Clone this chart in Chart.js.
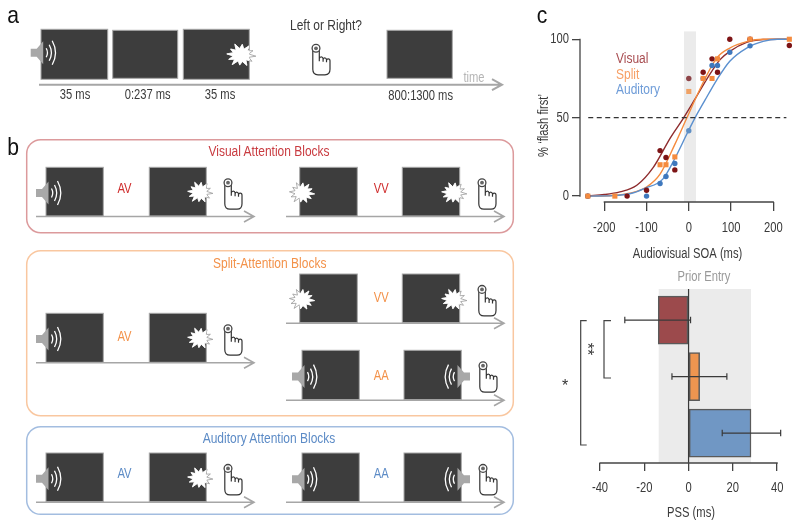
<!DOCTYPE html>
<html><head><meta charset="utf-8">
<script src="https://cdn.jsdelivr.net/npm/chart.js@4"></script>
<style>
html,body{margin:0;padding:0;background:#fff;width:800px;height:527px;overflow:hidden}
canvas,svg{position:absolute}
#c1{left:530px;top:20px}
#c2{left:560px;top:270px}
#art{left:0;top:0}
text{font-family:"Liberation Sans",sans-serif}
</style></head><body>
<canvas id="c1" width="265" height="245" style="width:265px;height:245px"></canvas>
<canvas id="c2" width="240" height="257" style="width:240px;height:257px"></canvas>
<svg id="art" width="800" height="527" viewBox="0 0 800 527"></svg>
<script>
// ---- panel c, top: psychometric data ----
const soaTicks = [-200,-100,0,100,200];
const pctTicks = [0,50,100];
const visualX = [-239,-146,-100,-68,-54,-33,0,34,55,68,97,145,238];
const visualY = [0,0,3.75,29,24.6,16.7,75,79,87.5,79,100,100,96];
const splitX  = [-239,-175,-68,-54,-33,0,34,55,68,145,238];
const splitY  = [0,0,20,20,25,66.7,75,75,87.5,100,100];
const audX    = [-239,-100,-68,-54,-33,0,34,55,68,97,145];
const audY    = [0,0,8,12.5,20.8,41.7,75,83.3,83.3,91.7,95.8];
const visualCurveX = [-237,-200,-163,-123,-84,-44,-13,15,46,74,97,137,176,210,232];
const visualCurveY = [0.3,1,2.7,6.9,18.3,37,49.6,62,76,87,92.3,98,99.8,100,100];
const splitCurveX  = [-235,-180,-140,-100,-68,-33,-5,26,66,97,137,176,232];
const splitCurveY  = [0,0.4,1.8,5.8,14,33,49.6,68,88,94.4,98.5,100,100];
const audCurveX    = [-235,-180,-140,-104,-61,-33,-2,15,38,66,97,137,176,210,232];
const audCurveY    = [0,0.3,1.5,5,11,24,41,50,61,74,86,94.4,98.6,100,100];
const guideX = [-238,231];
const guideY = [50,50];
const soaBand = [-11.3,17];
// ---- panel c, bottom: PSS ----
const pssTicks = [-40,-20,0,20,40];
const conditions = ['Visual','Split','Auditory'];
const pssValues = [-13.7,5,28.2];
const pssLow  = [-28.8,-7.5,15.2];
const pssHigh = [0.9,17.3,41.6];
const priorBand = [-13.5,28.2];

const FONT = '"Liberation Sans",sans-serif';
const INK = '#3a3a3a';
const NARROW = 0.8;
const pts = (xs,ys)=>xs.map((x,i)=>({x,y:ys[i]}));
Chart.defaults.font.family = FONT;
Chart.defaults.color = INK;
Chart.defaults.animation = false;

// the reference uses a condensed face: draw all chart text narrowed
['c1','c2'].forEach(id=>{
  const c=document.getElementById(id).getContext('2d'),f=c.fillText;
  c.fillText=function(t,x,y){this.save();this.translate(x,y);this.scale(NARROW,1);f.call(this,t,0,0);this.restore();};
});

const rAxis = { id:'rAxis', afterDatasetsDraw(ch){
  const c=ch.ctx,{x,y}=ch.scales;
  c.save();c.strokeStyle='#444';c.lineWidth=1.3;c.beginPath();
  const xt=x.ticks.map(t=>t.value), b=ch.chartArea.bottom;
  c.moveTo(x.getPixelForValue(xt[0])-.6,b);c.lineTo(x.getPixelForValue(xt[xt.length-1])+.6,b);
  if(ch.canvas.id==='c1'){
    const yt=y.ticks.map(t=>t.value), l=ch.chartArea.left;
    c.moveTo(l,y.getPixelForValue(yt[0])+.6);c.lineTo(l,y.getPixelForValue(yt[yt.length-1])-.6);
  }
  c.stroke();c.restore();
}};
const band = { id:'band', beforeDatasetsDraw(ch,a,o){
  const c=ch.ctx,{x}=ch.scales,A=ch.chartArea;
  c.save();c.fillStyle='#ebebeb';
  const l=x.getPixelForValue(o.range[0]),r=x.getPixelForValue(o.range[1]);
  c.fillRect(l,A.top,r-l,A.bottom-A.top);c.restore();
}};
const errs = { id:'errs', afterDatasetsDraw(ch){
  if(ch.canvas.id!=='c2')return;
  const c=ch.ctx,{x,y}=ch.scales,A=ch.chartArea;
  c.save();c.strokeStyle='#3a3a3a';c.lineWidth=1.2;c.beginPath();
  const z=x.getPixelForValue(0);c.moveTo(z,A.top);c.lineTo(z,A.bottom);
  conditions.forEach((_,i)=>{
    const py=y.getPixelForValue(i),l=x.getPixelForValue(pssLow[i]),h=x.getPixelForValue(pssHigh[i]);
    c.moveTo(l,py);c.lineTo(h,py);c.moveTo(l,py-3.3);c.lineTo(l,py+3.3);c.moveTo(h,py-3.3);c.lineTo(h,py+3.3);
  });
  c.stroke();c.restore();
}};
const lineDs=(xs,ys,col)=>({type:'line',data:pts(xs,ys),borderColor:col,borderWidth:1.4,pointRadius:0,cubicInterpolationMode:'monotone',fill:false});
const dotDs=(xs,ys,col,pale,style)=>({type:'scatter',data:pts(xs,ys),
  backgroundColor:c=>(c.raw&&c.raw.x===0)?pale:col,borderWidth:0,
  pointRadius:style==='rect'?3.6:2.7,pointStyle:style,showLine:false});

new Chart(document.getElementById('c1'),{
  type:'scatter',
  data:{datasets:[
    {type:'line',data:pts(guideX,guideY),borderColor:'#333',borderWidth:1.2,borderDash:[5,3.5],pointRadius:0},
    dotDs(splitX,splitY,'#f58b3e','#f0a265','rect'),
    dotDs(audX,audY,'#3f78bd','#5f8fc4','circle'),
    dotDs(visualX,visualY,'#7d1416','#8e4448','circle'),
    lineDs(audCurveX,audCurveY,'#5b90cf'),
    lineDs(splitCurveX,splitCurveY,'#f58b3e'),
    lineDs(visualCurveX,visualCurveY,'#8e2c2e')
  ]},
  plugins:[rAxis,band],
  options:{responsive:false,animation:false,clip:false,
    layout:{autoPadding:false,padding:{top:8,left:0,right:0,bottom:0}},
    plugins:{legend:{display:false},tooltip:{enabled:false},band:{range:soaBand}},
    scales:{
      x:{type:'linear',min:-257.5,max:251.4,
        afterBuildTicks(s){s.ticks=soaTicks.map(value=>({value}));},
        afterFit(s){s.height=63;s.paddingLeft=s.paddingRight=0;},
        grid:{display:true,drawOnChartArea:false,drawTicks:true,tickLength:9,color:'#444',lineWidth:1.3},
        border:{display:false},
        ticks:{font:{size:14},color:INK,padding:9,maxRotation:0},
        title:{display:true,text:'Audiovisual SOA (ms)',font:{size:14},color:INK,padding:{top:6,bottom:2}}},
      y:{type:'linear',min:-3.75,max:105,
        afterBuildTicks(s){s.ticks=pctTicks.map(value=>({value}));},
        afterFit(s){s.width=50;},
        grid:{display:true,drawOnChartArea:false,drawTicks:true,tickLength:8,color:'#444',lineWidth:1.3},
        border:{display:false},
        ticks:{font:{size:14},color:INK,padding:3}}
    }}
});

new Chart(document.getElementById('c2'),{
  type:'bar',
  data:{labels:conditions,datasets:[{
    data:pssValues.map((x,i)=>({x,y:i})),
    backgroundColor:['#9c4a4c','#ee9550','#7097c4'],
    borderColor:'#5a5a5a',borderWidth:1.5,barThickness:48,borderSkipped:false
  }]},
  plugins:[band,errs,rAxis],
  options:{indexAxis:'y',responsive:false,animation:false,
    layout:{autoPadding:false,padding:{top:19,left:0,right:18,bottom:0}},
    plugins:{legend:{display:false},tooltip:{enabled:false},band:{range:priorBand}},
    scales:{
      x:{type:'linear',min:-40,max:42.2,
        afterBuildTicks(s){s.ticks=pssTicks.map(value=>({value}));},
        afterFit(s){s.height=64;s.paddingLeft=s.paddingRight=0;},
        grid:{display:true,drawOnChartArea:false,drawTicks:true,tickLength:8,color:'#444',lineWidth:1.3},
        border:{display:false},
        ticks:{font:{size:14},color:INK,padding:9,maxRotation:0},
        title:{display:true,text:'PSS (ms)',font:{size:14},color:INK,padding:{top:6,bottom:5}}},
      y:{type:'linear',reverse:true,min:-0.55,max:2.53,offset:false,
        afterFit(s){s.width=40;},
        grid:{display:false,offset:false},border:{display:false},ticks:{display:false}}
    }}
});

// ---- schematic (a, b) and annotations ----
const art=[];let clipN=0;
const DARK='#3d3d3d',EDGE='#a8a8a8',GR='#a6a6a6';
function txt(x,y,s,o={}){art.push(`<text transform="translate(${x} ${y}) rotate(${o.t||0}) scale(${o.k||NARROW} 1)" dominant-baseline="central" text-anchor="${o.a||'middle'}" font-size="${o.s||14}" fill="${o.c||INK}">${s}</text>`);}
function panel(x0,x1,y0,y1){art.push(`<rect x="${x0}" y="${y0}" width="${x1-x0}" height="${y1-y0}" fill="${DARK}" stroke="${EDGE}" stroke-width="1"/>`);}
function arrow(x0,x1,y,w){art.push(`<path d="M${x0} ${y}H${x1}M${x1-10} ${y-5.5}L${x1} ${y}L${x1-10} ${y+5.5}" fill="none" stroke="${GR}" stroke-width="${w||1.6}"/>`);}
function box(y0,y1,col){art.push(`<rect x="26.7" y="${y0}" width="486.6" height="${y1-y0}" rx="14" fill="none" stroke="${col}" stroke-width="1.5"/>`);}
function starPts(cx,cy,rx,ry){
  const R=[1,.55,.9,.52,.95,.55,.85,.52,1,.55,.9,.52,.95,.55,.85,.52,1,.55,.9,.52,.95,.55,.88,.52];
  return R.map((r,i)=>{const t=i/R.length*2*Math.PI+.1;return (cx+Math.cos(t)*rx*r).toFixed(1)+','+(cy+Math.sin(t)*ry*r).toFixed(1);}).join(' ');
}
function star(cx,cy,px0,px1,py0,py1,rx,ry){
  const p=starPts(cx,cy,rx||13,ry||11),id='k'+(clipN++);
  art.push(`<polygon points="${p}" fill="#fff" stroke="#9a9a9a" stroke-width=".8"/>`);
  art.push(`<clipPath id="${id}"><rect x="${px0}" y="${py0}" width="${px1-px0}" height="${py1-py0}"/></clipPath>`);
  art.push(`<polygon points="${p}" fill="#fff" stroke="#fff" stroke-width=".8" clip-path="url(#${id})"/>`);
}
function speaker(x,y,d){ // x = outer end of the speaker, d = +1 faces right
  const P=(a,b)=>`${(x+d*a).toFixed(1)} ${(y+b).toFixed(1)}`;
  art.push(`<path d="M${P(0,-4)}L${P(6,-4)}L${P(12.5,-11.5)}L${P(12.5,11.5)}L${P(6,4)}L${P(0,4)}Z" fill="#a8a8a8"/>`);
  [[15.5,4.5],[18.5,8],[21.5,12]].forEach(([a,h])=>{
    art.push(`<path d="M${P(a,-h)}Q${P(a+h*.55,0)} ${P(a,h)}" fill="none" stroke="#fff" stroke-width="1.3"/>`);
  });
}
function hand(cx,cy){ // ring centre
  const x=cx,y=cy;
  art.push(`<path d="M${x-3.2} ${y+1}V${y+21}Q${x-3.2} ${y+26.5} ${x+2} ${y+26.5}H${x+9}Q${x+14} ${y+26.5} ${x+14} ${y+21}V${y+12.5}Q${x+14} ${y+10.5} ${x+12.2} ${y+10.5}Q${x+10.5} ${y+10.5} ${x+10.5} ${y+12.5}V${y+14}V${y+11.5}Q${x+10.3} ${y+9.5} ${x+8.7} ${y+9.5}Q${x+7.1} ${y+9.5} ${x+7.1} ${y+11.5}V${y+13.5}V${y+10.5}Q${x+6.9} ${y+8.5} ${x+5.3} ${y+8.5}Q${x+3.5} ${y+8.5} ${x+3.3} ${y+10.5}V${y+13}V${y+1}" fill="#fff" stroke="#333" stroke-width="1.2"/>`);
  art.push(`<circle cx="${x}" cy="${y}" r="3.9" fill="#fff" stroke="#444" stroke-width="1.3"/><circle cx="${x}" cy="${y}" r="1.9" fill="#666"/>`);
}
// letters
txt(13,15,'a',{s:24,c:'#111',k:.88});txt(13,147,'b',{s:24,c:'#111',k:.88});txt(542,15,'c',{s:24,c:'#111',k:.88});
// panel a
panel(41,107.7,29.3,79.3);panel(112.7,177.7,30.3,78.3);panel(183.3,249.3,29.3,79.3);panel(387,452.3,30.3,78.3);
speaker(30.7,52.7,1);star(241,55,183.3,249.3,29.3,79.3,15,12);hand(316,48.3);
arrow(39,502,84.7,2);
txt(75,94.5,'35 ms');txt(147.7,94.5,'0:237 ms');txt(220,94.5,'35 ms');txt(420.7,96,'800:1300 ms');
txt(326,25,'Left or Right?',{s:15});txt(474,78,'time',{c:'#b5b5b5'});
// panel b
const XL=[46,103.3,149.3,206.3],XV=[299.7,357.3,402.3,459.7],XA=[302,359.3,404,461.3];
function avRow(y0,y1,label,col,labY){
  panel(XL[0],XL[1],y0,y1);panel(XL[2],XL[3],y0,y1);
  const m=y0+25.7;speaker(36,m,1);star(200,m-.7,XL[2],XL[3],y0,y1);hand(228,y0+15.4);
  arrow(36,254,y1+.5);txt(124.5,labY,label,{c:col});
}
function vvRow(y0,y1,col,labY){
  panel(XV[0],XV[1],y0,y1);panel(XV[2],XV[3],y0,y1);
  const m=y0+25.5;star(301.7,m,XV[0],XV[1],y0,y1);star(454,m,XV[2],XV[3],y0,y1);hand(482,y0+15.4);
  arrow(286,504,y1+.5);txt(381.3,labY,'VV',{c:col});
}
function aaRow(y0,y1,col,labY){
  panel(XA[0],XA[1],y0,y1);panel(XA[2],XA[3],y0,y1);
  const m=y0+26.3;speaker(292,m,1);speaker(470,m,-1);hand(483,y0+15.4);
  arrow(286,504,y1+.5);txt(381.3,labY,'AA',{c:col});
}
box(139.7,232.7,'#dc9a9c');txt(269,150.7,'Visual Attention Blocks',{c:'#c93b40',s:15});
avRow(167.3,216,'AV','#cf2e2e',189);vvRow(167.3,216,'#cf2e2e',189);
box(250.7,415.7,'#f9c7a0');txt(269.7,262.7,'Split-Attention Blocks',{c:'#f3924a',s:15});
avRow(313.3,362.3,'AV','#f3924a',337);vvRow(274,322.7,'#f3924a',297.3);aaRow(350.3,399.7,'#f3924a',376);
box(426.7,514.3,'#a3bde0');txt(269,438.3,'Auditory Attention Blocks',{c:'#5c8bc6',s:15});
avRow(453,501.7,'AV','#5c8bc6',474);aaRow(453,501.7,'#5c8bc6',474);
// legend and y title of panel c
txt(616,58.3,'Visual',{a:'start',c:'#a84c50',s:15});txt(616,74,'Split',{a:'start',c:'#f7a066',s:15});txt(616,89.3,'Auditory',{a:'start',c:'#6e9cd8',s:15});
txt(543.3,125.5,'% \u2018flash first\u2019',{t:-90});
// prior entry, significance
txt(704,277,'Prior Entry',{c:'#999'});
art.push(`<path d="M611 320.7H604V378H611M586.7 320.7H580.7V445H586.7" fill="none" stroke="#444" stroke-width="1.2"/>`);
txt(587.5,349,'**',{s:16,t:90,c:'#333',k:1});txt(565,385,'*',{s:16,c:'#333',k:1});
document.getElementById('art').innerHTML=art.join('');
</script>
</body></html>
